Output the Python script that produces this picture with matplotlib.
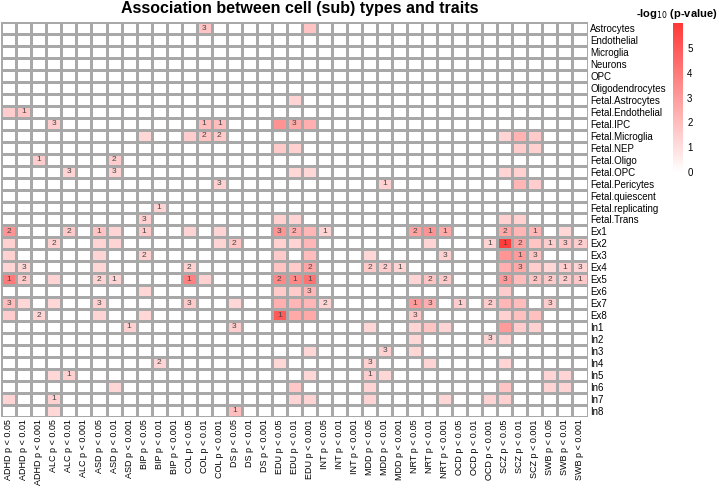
import numpy as np
import matplotlib
matplotlib.use("Agg")
import matplotlib.pyplot as plt
from matplotlib.colors import LinearSegmentedColormap

plt.rcParams['font.family'] = ['Liberation Sans', 'DejaVu Sans']

cell_types = ["Astrocytes", "Endothelial", "Microglia", "Neurons", "OPC",
              "Oligodendrocytes", "Fetal.Astrocytes", "Fetal.Endothelial",
              "Fetal.IPC", "Fetal.Microglia", "Fetal.NEP", "Fetal.Oligo",
              "Fetal.OPC", "Fetal.Pericytes", "Fetal.quiescent",
              "Fetal.replicating", "Fetal.Trans",
              "Ex1", "Ex2", "Ex3", "Ex4", "Ex5", "Ex6", "Ex7", "Ex8",
              "In1", "In2", "In3", "In4", "In5", "In6", "In7", "In8"]
traits = ["ADHD", "ALC", "ASD", "BIP", "COL", "DS", "EDU", "INT", "MDD",
          "NRT", "OCD", "SCZ", "SWB"]
thresholds = ["0.05", "0.01", "0.001"]

# -log10(p) per cell type, {column index: value}; missing = 0
neglog_p = [
    {13: 1.8, 20: 1.8},                                   # Astrocytes
    {}, {}, {}, {}, {},
    {19: 1.3},                                            # Fetal.Astrocytes
    {0: 1.5, 1: 1.8},                                     # Fetal.Endothelial
    {3: 1.5, 13: 2.0, 14: 2.0, 18: 3.3, 19: 2.6, 20: 2.4},
    {9: 1.2, 12: 1.5, 13: 1.8, 14: 1.6, 33: 1.3, 34: 2.3, 35: 1.6},
    {18: 1.6, 19: 1.4, 34: 1.5, 35: 1.4},                 # Fetal.NEP
    {2: 1.5, 7: 1.5},                                     # Fetal.Oligo
    {4: 1.3, 7: 1.3, 19: 1.2, 20: 1.2, 33: 1.3, 34: 1.4},
    {14: 1.4, 25: 1.4, 34: 2.2, 35: 1.5},                 # Fetal.Pericytes
    {},
    {10: 1.3},
    {9: 1.4, 18: 1.4, 19: 1.3, 33: 1.4, 34: 1.4},         # Fetal.Trans
    {0: 3.2, 4: 1.6, 6: 1.8, 7: 1.3, 9: 1.6, 12: 1.3, 14: 1.3, 18: 3.2,
     19: 2.4, 20: 2.2, 21: 1.3, 27: 2.8, 28: 3.3, 29: 2.6, 33: 2.6, 34: 2.2,
     35: 2.2, 37: 1.2},                                   # Ex1
    {0: 1.4, 3: 1.4, 6: 1.3, 7: 1.3, 14: 1.3, 15: 1.8, 18: 1.4, 19: 1.3,
     20: 2.2, 28: 1.3, 32: 1.3, 33: 5.8, 34: 2.8, 35: 1.8, 36: 1.5, 37: 1.7,
     38: 1.5},                                            # Ex2
    {0: 1.4, 6: 1.3, 9: 1.4, 18: 1.6, 20: 2.0, 24: 1.2, 29: 1.4, 33: 3.2,
     34: 3.0, 35: 1.8},                                   # Ex3
    {0: 1.3, 1: 1.2, 6: 1.2, 12: 1.4, 18: 1.8, 19: 1.6, 20: 2.7, 24: 1.6,
     25: 1.5, 26: 1.3, 33: 2.4, 34: 2.6, 35: 1.5, 36: 1.2, 37: 1.5, 38: 1.3},
    {0: 4.0, 1: 1.6, 3: 1.3, 6: 1.3, 7: 1.3, 12: 3.8, 13: 1.4, 18: 3.6,
     19: 3.6, 20: 4.2, 27: 1.3, 28: 1.8, 29: 1.6, 33: 3.0, 34: 2.0, 35: 1.8,
     36: 1.6, 37: 1.5, 38: 1.7},                          # Ex5
    {9: 1.2, 18: 1.6, 19: 1.6, 20: 2.2, 33: 1.5},         # Ex6
    {0: 2.0, 1: 1.2, 3: 1.2, 6: 1.4, 12: 1.6, 15: 1.2, 18: 2.4, 19: 2.2,
     20: 2.2, 21: 1.3, 27: 3.0, 28: 2.4, 30: 1.5, 32: 1.5, 33: 2.2, 34: 2.0,
     36: 1.5},                                            # Ex7
    {0: 1.5, 2: 1.3, 6: 1.3, 9: 1.2, 18: 5.0, 19: 2.6, 20: 2.6, 27: 1.6,
     33: 1.4, 34: 1.9, 35: 1.9},                          # Ex8
    {8: 1.4, 15: 1.5, 24: 1.2, 27: 1.3, 28: 1.8, 29: 1.3, 33: 3.0, 34: 1.5,
     35: 1.4},                                            # In1
    {27: 1.2, 32: 1.3, 33: 1.3},                          # In2
    {20: 1.2, 25: 1.4, 27: 1.2},                          # In3
    {10: 1.3, 18: 1.2, 24: 1.4, 28: 1.3, 33: 1.3},        # In4
    {3: 1.2, 4: 1.4, 20: 1.2, 24: 1.5, 25: 1.2, 36: 1.3, 37: 1.3},
    {7: 1.2, 19: 1.7, 24: 1.3, 33: 1.8, 36: 1.3, 37: 1.3},
    {0: 1.3, 3: 1.4, 19: 1.3, 20: 1.3, 24: 1.3, 29: 1.2, 32: 1.3, 33: 1.4},
    {3: 1.2, 15: 2.0},                                    # In8
]

# numbers printed inside cells, {column index: text}
cell_numbers = [
    {13: "3"}, {}, {}, {}, {}, {}, {},
    {1: "1"},
    {3: "3", 13: "1", 14: "1", 19: "3"},
    {13: "2", 14: "2"},
    {},
    {2: "1", 7: "2"},
    {4: "3", 7: "3"},
    {14: "3", 25: "1"},
    {},
    {10: "1"},
    {9: "3"},
    {0: "2", 4: "2", 6: "1", 9: "1", 18: "3", 19: "2", 21: "1", 27: "2",
     28: "1", 29: "1", 33: "2", 35: "1"},
    {3: "2", 15: "2", 32: "1", 33: "1", 34: "2", 36: "1", 37: "3", 38: "2"},
    {9: "2", 29: "3", 34: "1", 35: "3"},
    {1: "3", 12: "2", 20: "2", 24: "2", 25: "2", 26: "1", 34: "3", 37: "1",
     38: "3"},
    {0: "1", 1: "2", 6: "2", 7: "1", 12: "1", 18: "2", 19: "1", 20: "1",
     28: "2", 29: "2", 33: "3", 35: "2", 36: "2", 37: "2", 38: "1"},
    {20: "3"},
    {0: "3", 6: "3", 12: "3", 21: "2", 27: "1", 28: "3", 30: "1", 32: "2",
     36: "3"},
    {2: "2", 18: "1", 27: "3"},
    {8: "1", 15: "3"},
    {32: "3"},
    {25: "3"},
    {10: "2", 24: "3"},
    {4: "1", 24: "1"},
    {},
    {3: "1"},
    {15: "1"},
]

columns = [f"{t} p < {p}" for t in traits for p in thresholds]
n_rows, n_cols = len(cell_types), len(columns)

mat = np.zeros((n_rows, n_cols))
for i, row in enumerate(neglog_p):
    for j, v in row.items():
        mat[i, j] = v

cmap = LinearSegmentedColormap.from_list("wr", ["#FFFFFF", "#FF3838"])
vmax = 6.0

fig = plt.figure(figsize=(7.19, 4.91), dpi=100)
ax = fig.add_axes([1.3 / 719, 1 - 416.6 / 491, 586.2 / 719, 394.3 / 491])
ax.pcolormesh(np.arange(n_cols + 1), np.arange(n_rows + 1), mat,
              cmap=cmap, vmin=0, vmax=vmax,
              edgecolors="#a8a8a8", linewidth=0.8)
ax.set_xlim(0, n_cols)
ax.set_ylim(n_rows, 0)

for i, row in enumerate(cell_numbers):
    for j, txt in row.items():
        ax.text(j + 0.5, i + 0.5, txt, ha="center", va="center",
                fontsize=6, color="#444444")

ax.set_xticks(np.arange(n_cols) + 0.5)
ax.set_xticklabels(columns, rotation=90, fontsize=6.5, va="top")
ax.set_yticks(np.arange(n_rows) + 0.5)
ax.set_yticklabels(cell_types, fontsize=7)
ax.yaxis.tick_right()
ax.tick_params(length=0, pad=2)
for s in ax.spines.values():
    s.set_visible(False)

fig.text(300 / 719, 1 - 9 / 491, "Association between cell (sub) types and traits",
         ha="center", va="center", fontsize=11.5, fontweight="bold")

cax = fig.add_axes([673 / 719, 1 - 172 / 491, 10 / 719, 149 / 491])
grad = np.linspace(0, vmax, 256).reshape(-1, 1)
cax.imshow(grad, aspect="auto", origin="lower", cmap=cmap,
           extent=[0, 1, 0, vmax], vmin=0, vmax=vmax)
cax.set_xticks([])
cax.yaxis.tick_right()
cax.set_yticks(range(0, 6))
cax.tick_params(length=0, labelsize=7, pad=3)
for s in cax.spines.values():
    s.set_visible(False)
fig.text(677 / 719, 1 - 14 / 491, "-log$_{10}$ (p-value)", ha="center",
         va="center", fontsize=8, fontweight="bold")

fig.savefig("out.png", dpi=100)
